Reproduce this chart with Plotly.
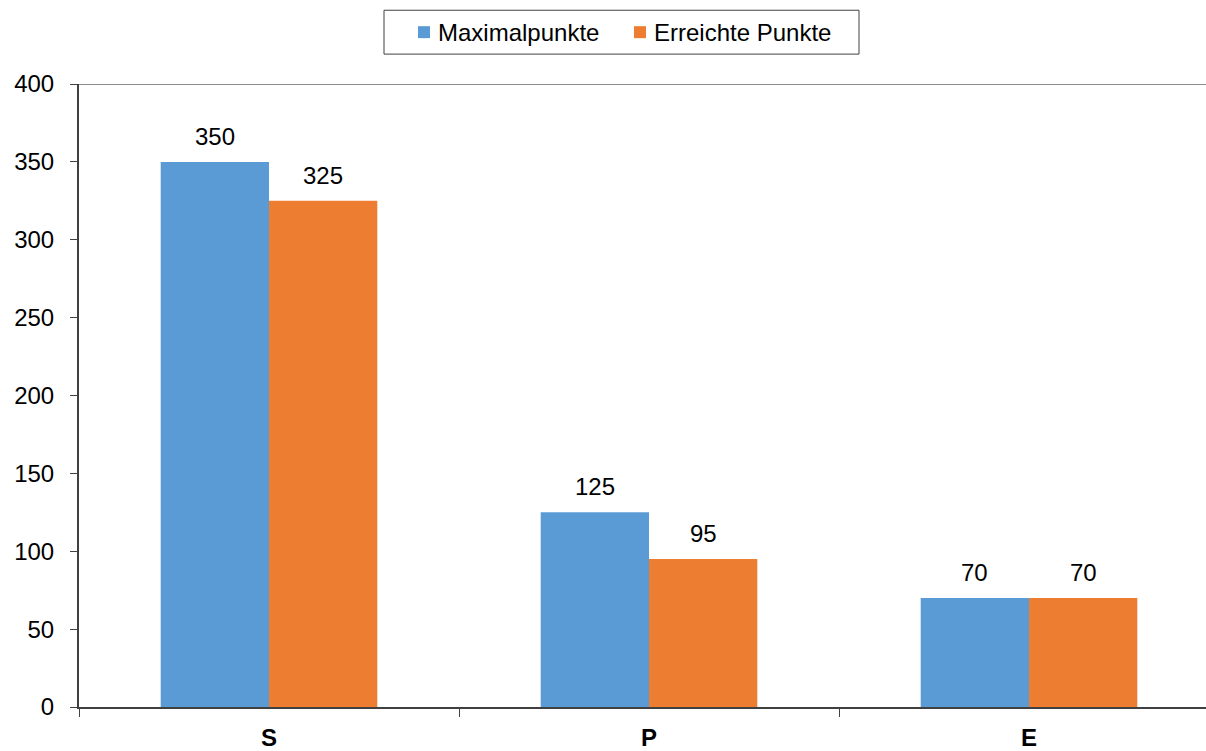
import plotly.graph_objects as go

categories = ["S", "P", "E"]
max_points = [350, 125, 70]
achieved_points = [325, 95, 70]
series_names = ["Maximalpunkte", "Erreichte Punkte"]
y_ticks = [0, 50, 100, 150, 200, 250, 300, 350, 400]

BLUE = "#5B9BD5"
ORANGE = "#ED7D31"
FONT = "Liberation Sans, Arial, sans-serif"

W, H = 1206, 751
ML, MR, MT, MB = 79, 0, 84, 42
PW, PH = W - ML - MR, H - MT - MB


def px_x(px):
    return (px - ML) / PW


def px_y(py):
    return (H - MB - py) / PH


fig = go.Figure()
fig.add_trace(go.Bar(name=series_names[0], x=categories, y=max_points,
                     marker=dict(color=BLUE, line=dict(width=0)), showlegend=False))
fig.add_trace(go.Bar(name=series_names[1], x=categories, y=achieved_points,
                     marker=dict(color=ORANGE, line=dict(width=0)), showlegend=False))

# value labels above each bar
bar_half = 0.57 / 4
for i, (a, b) in enumerate(zip(max_points, achieved_points)):
    for dx, v in ((-bar_half, a), (bar_half, b)):
        fig.add_annotation(x=i + dx, y=v, xref="x", yref="y", text=str(v),
                           showarrow=False, yanchor="bottom", yshift=10,
                           font=dict(size=24, color="#000000", family=FONT))

# top border line of the plot area
fig.add_shape(type="line", xref="paper", yref="y", x0=0, x1=1, y0=400, y1=400,
              line=dict(color="#8C8C8C", width=2))

# legend box with coloured keys
fig.add_shape(type="rect", xref="paper", yref="paper",
              x0=px_x(384), x1=px_x(859), y0=px_y(54), y1=px_y(10),
              line=dict(color="#404040", width=1), fillcolor="white", layer="above")
legend_items = [(series_names[0], BLUE, 418), (series_names[1], ORANGE, 634)]
for name, color, left in legend_items:
    fig.add_shape(type="rect", xref="paper", yref="paper",
                  x0=px_x(left), x1=px_x(left + 12), y0=px_y(38), y1=px_y(26),
                  line=dict(width=0), fillcolor=color, layer="above")
    fig.add_annotation(x=px_x(left + 18), y=px_y(32), xref="paper", yref="paper",
                       text=name, showarrow=False, xanchor="left", yanchor="middle",
                       font=dict(size=24, color="#000000", family=FONT))

fig.update_layout(
    width=W, height=H,
    margin=dict(l=ML, r=MR, t=MT, b=MB),
    paper_bgcolor="white", plot_bgcolor="white",
    barmode="group", bargap=0.43, bargroupgap=0,
    font=dict(family=FONT, color="#000000"),
    showlegend=False,
    xaxis=dict(range=[-0.5, 2.4658], showline=True, linecolor="#404040", linewidth=2,
               ticks="outside", tickson="boundaries", ticklen=8, tickcolor="#404040",
               tickwidth=1, tickfont=dict(size=24, family=FONT, color="#000000",
                                          weight="bold"),
               showgrid=False, zeroline=False, ticklabelstandoff=8),
    yaxis=dict(range=[0, 400], tickvals=y_ticks, showline=True, linecolor="#404040",
               linewidth=2, ticks="outside", ticklen=7, tickcolor="#404040", tickwidth=1,
               tickfont=dict(size=24, family=FONT, color="#000000"),
               showgrid=False, zeroline=False, ticklabelstandoff=11),
)

fig.write_html("out.html")
